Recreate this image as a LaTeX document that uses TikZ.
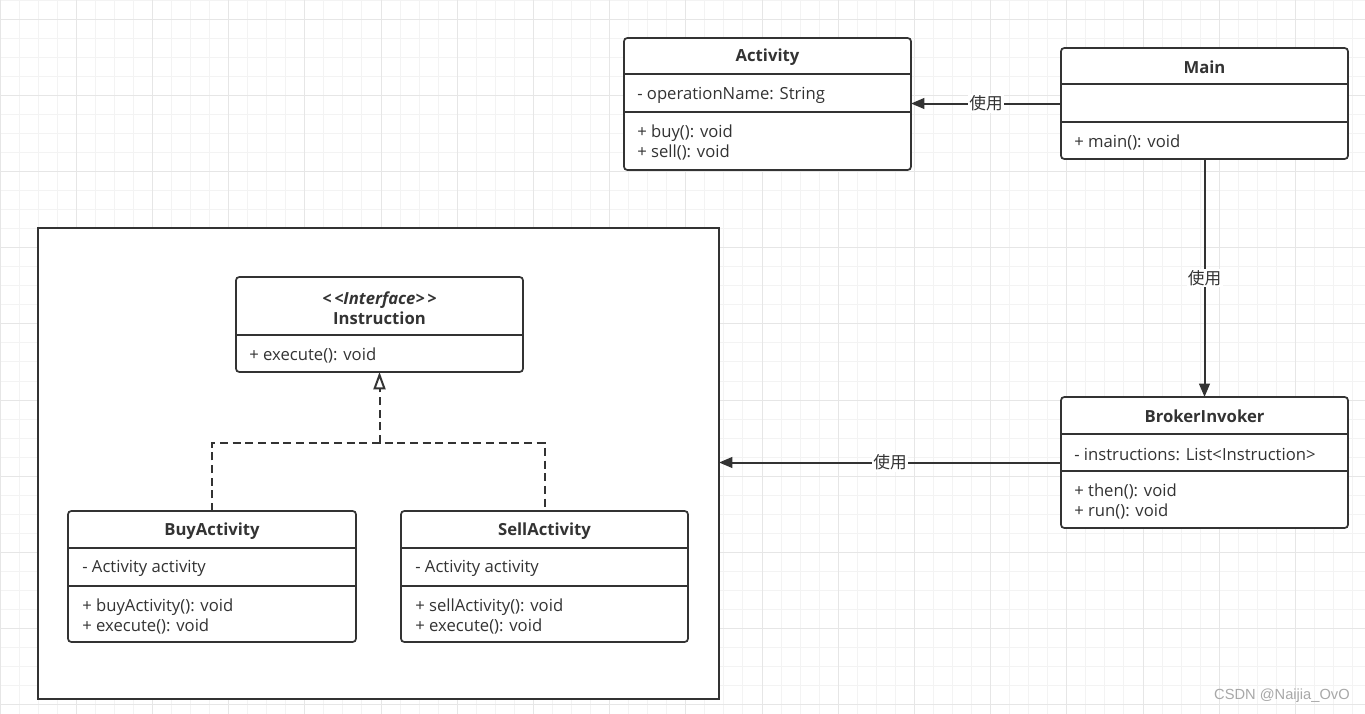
\documentclass[tikz,border=0pt]{standalone}
\usepackage{fontspec}
\setmainfont[Ligatures=TeXOff]{Open Sans}
\newfontfamily\cjk{Noto Sans CJK SC}
\newfontfamily\markfont{Liberation Sans}
\usetikzlibrary{arrows.meta}

\definecolor{ink}{HTML}{333333}
\definecolor{gridminor}{HTML}{F3F3F3}
\definecolor{gridmajor}{HTML}{E6E6E6}
\definecolor{markgray}{HTML}{A8A8A8}

\newcommand\umlsize{\fontsize{12.5}{15}\selectfont}

\tikzset{
    classbox/.style={draw=ink, fill=white, line width=1.3pt, rounded corners=2.5pt,
        inner sep=0pt, outer sep=0pt, minimum width=215.25pt},
    divider/.style={draw=ink, line width=1.3pt},
    title/.style={font=\umlsize\bfseries, text=ink, inner sep=0pt, yshift=-1.2pt},
    member/.style={font=\umlsize, anchor=west, text=ink, inner sep=0pt, align=left, yshift=-1.2pt},
    use/.style={draw=ink, line width=1.5pt, -{Triangle[length=10pt,width=8pt]}},
    uselabel/.style={fill=white, text=ink, font=\cjk\umlsize, inner sep=1pt},
    realize/.style={draw=ink, line width=1.5pt, dash pattern=on 6pt off 3.5pt},
}

\begin{document}
\begin{tikzpicture}[x=0.75pt, y=-0.75pt]

            \useasboundingbox (0,0) rectangle (1365,714);
            \fill[white] (0,0) rectangle (1365,714);

             %grid
                 \foreach \k in {0,...,71}
                     \draw[gridminor, line width=0.75pt] (\k*19.05,0) -- (\k*19.05,714);
                 \foreach \k in {0,...,37}
                     \draw[gridminor, line width=0.75pt] (0,\k*19.05) -- (1365,\k*19.05);
                 \foreach \k in {0,...,17}
                     \draw[gridmajor, line width=0.75pt] (\k*76.2,0) -- (\k*76.2,714);
                 \foreach \k in {0,...,9}
                     \draw[gridmajor, line width=0.75pt] (0,19.05+\k*76.2) -- (1365,19.05+\k*76.2);

            % frame round the instructions
            \node[draw=ink, fill=white, line width=1.6pt, inner sep=0pt, outer sep=0pt,
                minimum width=510.75pt, minimum height=353.25pt] (frame) at (378.5,463.5) {};

            % Activity
            \node[classbox, minimum height=99pt] (activity) at (767.5,104) {};
            \draw[divider] (activity.west |- 0,74) -- (activity.east |- 0,74);
            \draw[divider] (activity.west |- 0,112) -- (activity.east |- 0,112);
            \node[title] (activitytitle) at (767.5,56) {Activity};
            \node[member] (activityattr) at (637,94) {- operationName: String};
            \node[member] (activityops) at (637,141) {+ buy(): void\\+ sell(): void};

            % Main
            \node[classbox, minimum height=83.25pt] (main) at (1204.5,103.5) {};
            \draw[divider] (main.west |- 0,84) -- (main.east |- 0,84);
            \draw[divider] (main.west |- 0,122) -- (main.east |- 0,122);
            \node[title] (maintitle) at (1204.5,66) {Main};
            \node[member] (mainops) at (1074,141) {+ main(): void};

            % BrokerInvoker
            \node[classbox, minimum height=98.25pt] (broker) at (1204.5,462.5) {};
            \draw[divider] (broker.west |- 0,434) -- (broker.east |- 0,434);
            \draw[divider] (broker.west |- 0,471) -- (broker.east |- 0,471);
            \node[title] (brokertitle) at (1204.5,415) {BrokerInvoker};
            \node[member] (brokerattr) at (1074,453) {- instructions: List<Instruction>};
            \node[member] (brokerops) at (1074,500) {+ then(): void\\+ run(): void};

            % Instruction
            \node[classbox, minimum height=71.25pt] (instr) at (379.5,324.5) {};
            \draw[divider] (instr.west |- 0,335) -- (instr.east |- 0,335);
            \node[title, align=center] (instrtitle) at (379.5,307)
                {\textit{<\kern2pt<Interface>\kern2pt>}\\Instruction};
            \node[member] (instrops) at (249,354) {+ execute(): void};

            % BuyActivity
            \node[classbox, minimum width=216pt, minimum height=98.25pt] (buy) at (212,576.5) {};
            \draw[divider] (buy.west |- 0,548) -- (buy.east |- 0,548);
            \draw[divider] (buy.west |- 0,586) -- (buy.east |- 0,586);
            \node[title] (buytitle) at (212,530) {BuyActivity};
            \node[member] (buyattr) at (82,567) {- Activity activity};
            \node[member] (buyops) at (82,615) {+ buyActivity(): void\\+ execute(): void};

            % SellActivity
            \node[classbox, minimum height=98.25pt] (sell) at (544.5,576.5) {};
            \draw[divider] (sell.west |- 0,548) -- (sell.east |- 0,548);
            \draw[divider] (sell.west |- 0,586) -- (sell.east |- 0,586);
            \node[title] (selltitle) at (544.5,530) {SellActivity};
            \node[member] (sellattr) at (415,567) {- Activity activity};
            \node[member] (sellops) at (415,615) {+ sellActivity(): void\\+ execute(): void};

            % realization
            \coordinate (join) at (instr.south |- 0,443);
            \draw[realize] (buy.north) |- (join) -| (sell.north);
            \draw[realize, -{Triangle[open, length=13pt, width=9pt]}] (join) -- (instr.south);

            % uses
            \draw[use] (main.west) -- node[uselabel] {使用} (main.west -| activity.east);
            \draw[use] (main.south) -- node[uselabel] {使用} (broker.north);
            \draw[use] (broker.west) -- node[uselabel] {使用} (broker.west -| frame.east);

            \node[anchor=east, text=markgray, font=\markfont\fontsize{11}{13}\selectfont, inner sep=0pt]
                (mark) at (1350,696) {CSDN @Naijia\_OvO};
             \end{tikzpicture}
\end{document}
